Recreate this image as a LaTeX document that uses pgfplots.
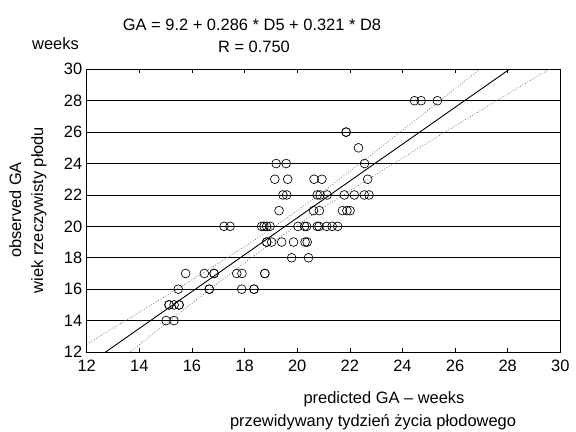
\documentclass[border=0pt]{standalone}
\usepackage{fontspec}
\setmainfont{Liberation Sans}
\usepackage{pgfplots}
\usepackage{pgfplotstable}
\pgfplotsset{compat=1.18}
\pgfplotstableread{
x y
15.02 14
15.32 14
15.13 15
15.13 15
15.32 15
15.51 15
15.51 15
15.48 16
16.66 16
16.66 16
17.89 16
18.36 16
18.36 16
15.76 17
16.47 17
16.84 17
16.84 17
17.70 17
17.90 17
18.77 17
18.77 17
19.79 18
20.43 18
18.84 19
18.84 19
19.03 19
19.41 19
19.86 19
20.30 19
20.38 19
17.22 20
17.45 20
18.65 20
18.74 20
18.84 20
18.97 20
20.03 20
20.28 20
20.36 20
20.76 20
20.83 20
21.12 20
21.33 20
21.54 20
19.31 21
20.62 21
20.84 21
21.72 21
21.89 21
22.01 21
19.46 22
19.60 22
20.76 22
20.87 22
21.14 22
21.79 22
22.17 22
22.55 22
22.73 22
19.15 23
19.64 23
20.64 23
20.94 23
22.68 23
19.20 24
19.58 24
22.56 24
22.33 25
21.86 26
21.86 26
24.46 28
24.71 28
25.33 28
}\obsdata
\pgfplotstableread{
x y
11 11.49
12 12.50
13 13.515
14 14.534
15 15.558
16 16.590
17 17.637
18 18.710
19 19.824
20 20.997
21 22.229
22 23.502
23 24.801
24 26.115
25 27.437
26 28.764
27 30.095
28 31.428
}\upperband
\pgfplotstableread{
x y
12 9.81
13 11.141
14 12.468
15 13.790
16 15.104
17 16.403
18 17.677
19 18.908
20 20.081
21 21.196
22 22.268
23 23.315
24 24.347
25 25.371
26 26.390
27 27.405
28 28.418
29 29.429
30 30.438
31 31.45
}\lowerband
\begin{document}
\begin{tikzpicture}
\path[use as bounding box] (0bp,0bp) rectangle (576bp,432bp);
\begin{axis}[
  at={(86.7bp,80bp)}, anchor=south west,
  scale only axis, width=473.6bp, height=282.7bp,
  xmin=12, xmax=30, ymin=12, ymax=30,
  xtick={12,14,...,30}, ytick={12,14,...,30},
  ymajorgrids, grid style={black, line width=0.7bp},
  xtick style={black, line width=0.6bp},
  ytick style={draw=none},
  major tick length=4bp,
  tick align=inside,
  axis line style={black, line width=0.8bp},
  tick label style={font=\fontsize{16.5}{19}\selectfont, black},
  /pgf/number format/assume math mode=true,
  xticklabel style={yshift=-5bp},
  yticklabel style={xshift=-1bp},
  clip=true,
]
\addplot[black!55, dotted, line width=0.8bp] table {\upperband};
\addplot[black!55, dotted, line width=0.8bp] table {\lowerband};
\addplot[black, line width=0.9bp] coordinates {(12,11.155) (30,32.269)};
\addplot[only marks, mark=o, mark size=4.4bp, black, mark options={line width=0.65bp}] table {\obsdata};
\end{axis}
\node[anchor=base, font=\fontsize{16.5}{19}\selectfont] at (252bp,401bp) {GA = 9.2 + 0.286 * D5 + 0.321 * D8};
\node[anchor=base, font=\fontsize{16.5}{19}\selectfont] at (254bp,379bp) {R = 0.750};
\node[anchor=base west, font=\fontsize{16.5}{19}\selectfont, inner sep=0pt] at (32bp,382bp) {weeks};
\node[anchor=base, rotate=90, font=\fontsize{16.5}{19}\selectfont, inner sep=0pt] at (21bp,222bp) {observed GA};
\node[anchor=base, rotate=90, font=\fontsize{16.5}{19}\selectfont, inner sep=0pt] at (43bp,222bp) {wiek rzeczywisty płodu};
\node[anchor=base, font=\fontsize{16.5}{19}\selectfont, inner sep=0pt] at (384bp,29bp) {predicted GA – weeks};
\node[anchor=base, font=\fontsize{16.5}{19}\selectfont, inner sep=0pt] at (373bp,6bp) {przewidywany tydzień życia płodowego};
\end{tikzpicture}
\end{document}
